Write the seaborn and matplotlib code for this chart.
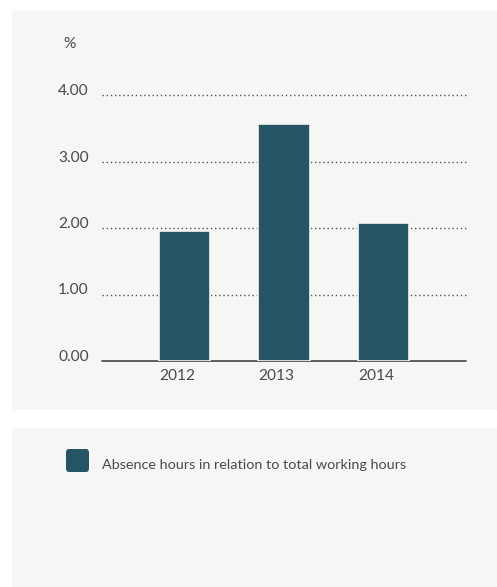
import matplotlib
matplotlib.use("Agg")
import matplotlib.pyplot as plt
from matplotlib.patches import FancyBboxPatch
import seaborn as sns
import pandas as pd

years = ["2012", "2013", "2014"]
absence_pct = [1.95, 3.56, 2.07]
y_ticks = [0.0, 1.0, 2.0, 3.0, 4.0]
series_label = "Absence hours in relation to total working hours"
unit_label = "%"

BAR = "#255464"
PANEL = "#f6f6f4"
TEXT = "#4a4a4a"
FONT = ["Lato", "DejaVu Sans"]
FS_TICK = 11.2
FS_LEG = 10.35

sns.set_theme(style="white")
plt.rcParams["font.family"] = FONT

W, H = 497, 587
fig = plt.figure(figsize=(W / 100, H / 100), dpi=100)
fig.patch.set_facecolor("white")


def px_box(x0, y0, x1, y1):
    """Convert a pixel box (top-left origin) to figure fractions."""
    return [x0 / W, 1 - y1 / H, (x1 - x0) / W, (y1 - y0) / H]


# background panels
for (x0, y0, x1, y1) in [(12, 11, 510, 410), (12, 428, 510, 600)]:
    l, b, w, h = px_box(x0, y0, x1, y1)
    fig.patches.append(FancyBboxPatch((l, b), w, h,
                                      boxstyle="round,pad=0,rounding_size=0.006",
                                      transform=fig.transFigure,
                                      facecolor=PANEL, edgecolor="none", zorder=-5))

ymax = 4.1
ax = fig.add_axes(px_box(102, 361 - ymax * 66.5, 466, 361))
ax.set_zorder(5)
ax.set_facecolor("none")

df = pd.DataFrame({"year": years, "value": absence_pct})
sns.barplot(data=df, x="year", y="value", color=BAR, saturation=1,
            width=0.52, edgecolor=PANEL, linewidth=1.2, ax=ax, zorder=3)

ax.set_xlim(-0.83, 2.83)
ax.set_ylim(0, ymax)

# dotted gridlines and solid baseline
for t in y_ticks:
    if t == 0:
        ax.axhline(t, color="#444444", lw=1.2, zorder=1, clip_on=False)
    else:
        ax.axhline(t, color="#555555", lw=1.0, ls=(0, (1, 2)), zorder=1, clip_on=False)

for s in ax.spines.values():
    s.set_visible(False)

ax.set_yticks(y_ticks)
ax.set_yticklabels([f"{t:.2f}" for t in y_ticks])
ax.tick_params(axis="y", length=0, pad=9.5, labelsize=FS_TICK, labelcolor=TEXT)
for lab in ax.get_yticklabels():
    lab.set_va("baseline")

ax.set_xticks([i - 0.255 for i in range(len(years))])
ax.set_xticklabels(years)
ax.tick_params(axis="x", length=0, pad=5.5, labelsize=FS_TICK, labelcolor=TEXT)
for lab in ax.get_xticklabels():
    lab.set_ha("left")

ax.set_xlabel("")
ax.set_ylabel("")

fig.text(70 / W, 1 - 48 / H, unit_label, ha="center", va="baseline",
         fontsize=FS_TICK, color=TEXT)

# legend swatch and label
l, b, w, h = px_box(66, 449, 89, 472)
fig.patches.append(FancyBboxPatch((l, b), w, h,
                                  boxstyle="round,pad=0,rounding_size=0.006",
                                  transform=fig.transFigure,
                                  facecolor=BAR, edgecolor="none", zorder=2))
fig.text(102 / W, 1 - 469 / H, series_label, ha="left", va="baseline",
         fontsize=FS_LEG, color=TEXT)

fig.savefig("out.png", dpi=100, facecolor="white")
